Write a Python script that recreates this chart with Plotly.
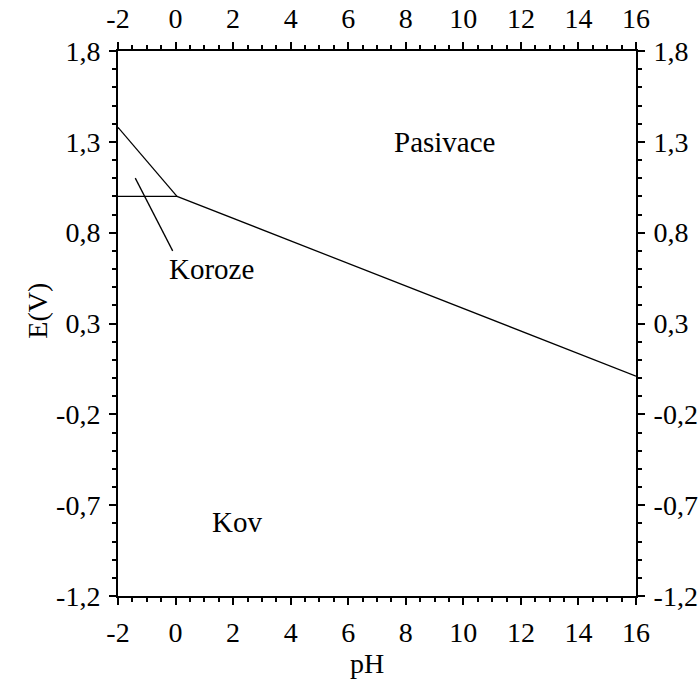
import plotly.graph_objects as go

# ---- data ----
ph_upper = [-2, 0.05]
e_upper = [1.38, 1.0]
ph_horiz = [-2, 0.05]
e_horiz = [1.0, 1.0]
ph_main = [0.05, 16]
e_main = [1.0, 0.01]
ph_pointer = [-1.4, -0.1]
e_pointer = [1.1, 0.7]

x_ticks = [-2, 0, 2, 4, 6, 8, 10, 12, 14, 16]
x_ticklabels = ["-2", "0", "2", "4", "6", "8", "10", "12", "14", "16"]
y_ticks = [1.8, 1.3, 0.8, 0.3, -0.2, -0.7, -1.2]
y_ticklabels = ["1,8", "1,3", "0,8", "0,3", "-0,2", "-0,7", "-1,2"]

region_labels = ["Pasivace", "Koroze", "Kov"]
region_ph = [9.35, 1.25, 2.15]
region_e = [1.3, 0.6, -0.79]

FONT = "Liberation Serif"
line_style = dict(color="black", width=1.3)

fig = go.Figure()
for xs, ys in [(ph_upper, e_upper), (ph_horiz, e_horiz), (ph_main, e_main), (ph_pointer, e_pointer)]:
    fig.add_trace(go.Scatter(x=xs, y=ys, mode="lines", line=line_style,
                             showlegend=False, hoverinfo="skip"))
# invisible trace for mirrored top/right axes
fig.add_trace(go.Scatter(x=[-2, 16], y=[-1.2, 1.8], xaxis="x2", yaxis="y2",
                         mode="markers", marker=dict(opacity=0), showlegend=False,
                         hoverinfo="skip"))

for t, xv, yv in zip(region_labels, region_ph, region_e):
    fig.add_annotation(x=xv, y=yv, text=t, showarrow=False,
                       font=dict(family=FONT, size=29))

axis_common = dict(showline=True, linecolor="black", linewidth=2, ticks="outside",
                   ticklen=7, tickwidth=1.5, tickcolor="black", showgrid=False,
                   zeroline=False, ticklabelstandoff=3, automargin=False,
                   tickfont=dict(family=FONT, size=28))

fig.update_layout(
    width=699, height=687,
    margin=dict(l=118, r=63, t=51, b=91),
    font=dict(family=FONT, color="black"),
    paper_bgcolor="white", plot_bgcolor="white",
    xaxis=dict(range=[-2, 16], tickvals=x_ticks, ticktext=x_ticklabels,
               minor=dict(dtick=0.5, tick0=-2, ticks="outside", ticklen=4,
                          tickcolor="black", tickwidth=1.5),
               **axis_common),
    yaxis=dict(range=[-1.2, 1.8], tickvals=y_ticks, ticktext=y_ticklabels,
               minor=dict(dtick=0.1, tick0=-1.2, ticks="outside", ticklen=4,
                          tickcolor="black", tickwidth=1.5),
               **axis_common),
    xaxis2=dict(range=[-2, 16], tickvals=x_ticks, ticktext=x_ticklabels,
                overlaying="x", side="top",
                minor=dict(dtick=0.5, tick0=-2, ticks="outside", ticklen=4,
                           tickcolor="black", tickwidth=1.5),
                **axis_common),
    yaxis2=dict(range=[-1.2, 1.8], tickvals=y_ticks, ticktext=y_ticklabels,
                overlaying="y", side="right",
                minor=dict(dtick=0.1, tick0=-1.2, ticks="outside", ticklen=4,
                           tickcolor="black", tickwidth=1.5),
                **axis_common),
)

fig.add_annotation(text="pH", xref="paper", yref="paper", x=0.481, y=-0.123,
                   xanchor="center", yanchor="middle", showarrow=False,
                   font=dict(family=FONT, size=28))
fig.add_annotation(text="E(V)", xref="paper", yref="paper", x=-0.155, y=0.523,
                   xanchor="center", yanchor="middle", showarrow=False, textangle=-90,
                   font=dict(family=FONT, size=28))

fig.write_html("out.html")
